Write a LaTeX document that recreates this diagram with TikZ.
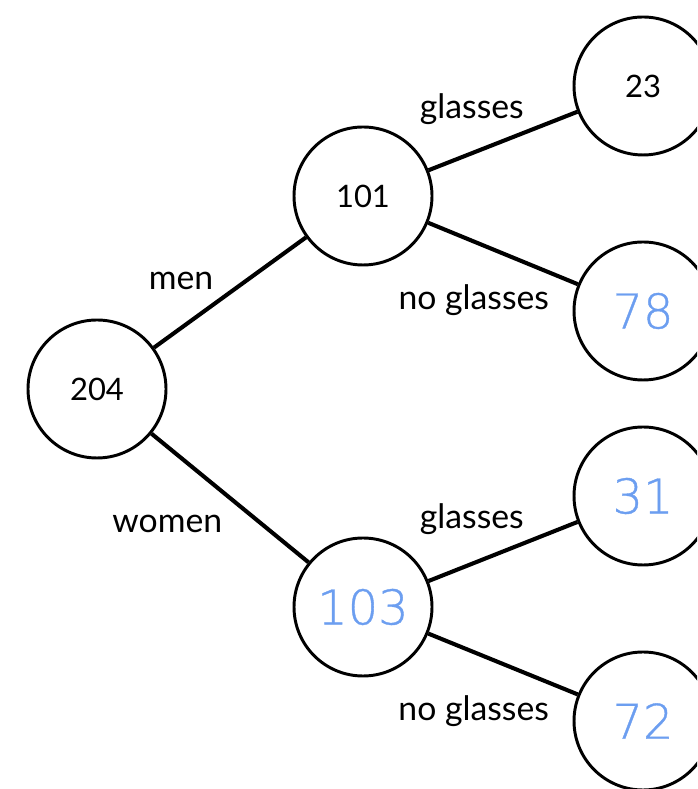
\documentclass[tikz,border=0pt]{standalone}
\usepackage{fontspec}
\setmainfont{Lato}
\newfontfamily\handfont[FakeBold=0.8]{DejaVu Sans ExtraLight}
\definecolor{penblue}{RGB}{108,158,240}
\begin{document}
\begin{tikzpicture}[
    count/.style={circle, draw, line width=2.1pt, minimum size=3.45cm, inner sep=0pt,
      font=\fontsize{22}{26}\selectfont},
    penned/.style={count, text=penblue, font=\handfont\fontsize{34}{38}\selectfont},
    branch/.style={line width=2.9pt},
    lbl/.style={font=\fontsize{24}{28}\selectfont, xshift=2pt}
  ]
  \useasboundingbox (0,0) rectangle (17.425,19.725);
  \clip (0,0) rectangle (17.425,19.725);

  % totals
  \node[count] (all) at (2.425,10) {204};
  \node[count] (men) at (9.075,14.825) {101};
  \node[penned] (women) at (9.075,4.55) {103};

  % glasses / no glasses
  \node[count] (menG) at (16.075,17.575) {23};
  \node[penned] (menN) at (16.075,11.95) {78};
  \node[penned] (womenG) at (16.075,7.325) {31};
  \node[penned] (womenN) at (16.075,1.7) {72};

  \draw[branch] (all) to node[lbl, pos=0.415, above left, yshift=4pt] (lmen) {men} (men);
  \draw[branch] (all) to node[lbl, pos=0.475, below left, yshift=-10pt] (lwomen) {women} (women);

  \draw[branch] (men) to node[lbl, pos=0.666, above left] (lmenG) {glasses} (menG);
  \draw[branch] (men) to node[lbl, pos=0.834, below left, yshift=-3pt] (lmenN) {no glasses} (menN);
  \draw[branch] (women) to node[lbl, pos=0.666, above left] (lwomenG) {glasses} (womenG);
  \draw[branch] (women) to node[lbl, pos=0.834, below left, yshift=-3pt] (lwomenN) {no glasses} (womenN);
\end{tikzpicture}
\end{document}
